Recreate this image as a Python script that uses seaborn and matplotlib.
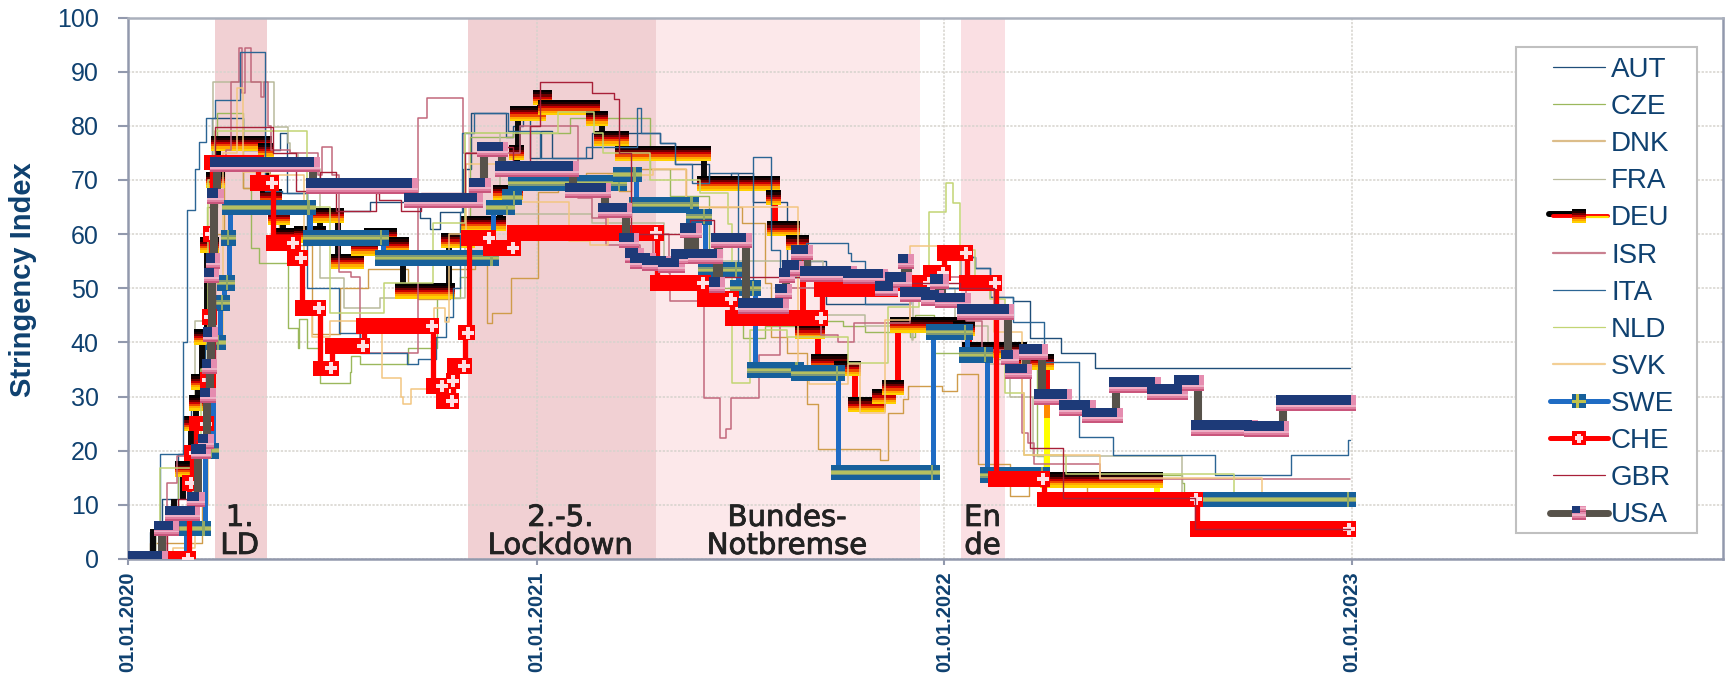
#!/usr/bin/env python3
import numpy as np
import pandas as pd
import seaborn as sns
import matplotlib
matplotlib.use("Agg")
import matplotlib.pyplot as plt
import matplotlib.patheffects as pe
from matplotlib.legend_handler import HandlerBase
from matplotlib.lines import Line2D
from matplotlib.patches import Rectangle

# x values are days since 01.01.2020, each pair starts a new level of the index
aut_days = [0, 20, 30, 45, 56, 69, 75, 103, 136, 142, 160, 217, 244, 261, 270, 279, 295, 300, 307, 330, 338, 345, 354, 360, 370, 380, 415, 456, 476, 490, 520, 540, 560, 590, 611, 625, 660, 700, 745, 758, 772, 792, 808, 835, 866, 1094]
aut_vals = [0, 5, 11, 19.4, 30, 60, 81.4, 75.5, 78.7, 67.6, 64.3, 66, 66, 63, 61, 64, 64, 72, 82.4, 82.4, 78, 80, 82, 74, 79, 74, 78.7, 78.7, 76.8, 73, 70, 71.3, 66, 52, 55, 47, 47, 50, 55.8, 53.7, 48.4, 47.7, 40.8, 38, 35.2, 35.2]
cze_days = [0, 29, 45, 62, 71, 80, 90, 103, 110, 117, 143, 151, 152, 153, 158, 160, 172, 181, 199, 200, 208, 251, 277, 297, 306, 345, 396, 467, 485, 520, 551, 570, 600, 640, 660, 700, 705, 722, 775, 814, 820, 944, 945, 1094]
cze_vals = [0, 5, 17, 30, 65, 82.4, 82.4, 68.5, 57.4, 54.6, 42.6, 42.6, 38.9, 44.4, 44.4, 38.9, 32.5, 32.5, 34.6, 37.4, 36.1, 38.9, 48.2, 52, 78, 78.6, 81.4, 72, 67, 50, 40.8, 43, 44, 43, 42, 41, 45, 38, 37, 19, 15.5, 14, 11, 11]
dnk_days = [0, 20, 62, 66, 70, 72, 86, 103, 125, 135, 152, 165, 190, 215, 251, 260, 288, 311, 321, 326, 343, 367, 385, 410, 440, 450, 500, 550, 570, 576, 590, 608, 618, 673, 680, 694, 698, 729, 742, 761, 790, 807, 859, 1094]
dnk_vals = [0, 3, 3, 10, 30, 60, 72, 68.5, 66, 60, 58, 41.6, 50, 53.6, 51, 48, 53.6, 54.6, 43.5, 45.4, 51.9, 67.8, 69, 71.3, 68, 72, 65, 62, 51, 41, 38, 28.7, 20.4, 18.3, 26.9, 29.5, 32, 31, 34.1, 17.6, 11.6, 14.8, 12, 11]
fra_days = [0, 25, 58, 60, 76, 130, 131, 143, 145, 152, 172, 193, 226, 290, 302, 330, 333, 410, 415, 440, 480, 622, 660, 702, 703, 740, 770, 790, 810, 942, 944, 1094]
fra_vals = [0, 5, 20, 44, 88, 88, 79.7, 76.8, 75, 72, 51.9, 46.3, 48.2, 48.2, 78.6, 78.6, 63.8, 63.8, 62, 62, 55, 45, 43, 40.4, 50, 43, 36, 30, 19, 19, 11, 11]
isr_days = [0, 35, 44, 75, 76, 78, 88, 92, 99, 102, 105, 110, 119, 122, 125, 128, 145, 170, 174, 180, 183, 189, 200, 208, 248, 260, 268, 299, 300, 315, 351, 402, 403, 415, 428, 458, 470, 484, 485, 516, 530, 535, 540, 565, 584, 620, 636, 650, 690, 700, 750, 765, 800, 806, 811, 870, 1094]
isr_vals = [0, 14, 19, 30, 50, 72, 75.5, 88, 94.4, 86, 94.4, 88, 85.4, 88, 80, 75.5, 75, 71, 76, 76, 71, 53, 52, 38, 38, 81.4, 85.2, 85.2, 75, 75, 80, 80, 66.6, 63, 58, 55.9, 60, 52.8, 47.7, 29.7, 22.3, 24, 29.7, 37.7, 50, 41.4, 40, 43.6, 43.6, 52, 44, 38.6, 23.3, 21.4, 17.5, 14.8, 14.8]
ita_days = [0, 29, 49, 53, 60, 64, 70, 78, 100, 123, 138, 160, 181, 189, 208, 248, 250, 260, 276, 285, 291, 297, 299, 310, 338, 340, 369, 410, 456, 459, 476, 490, 505, 520, 546, 560, 576, 584, 607, 645, 647, 660, 700, 730, 745, 758, 772, 792, 820, 851, 882, 973, 1041, 1092, 1094]
ita_vals = [0, 19.4, 40, 64.4, 72, 77, 81.4, 84.7, 93.6, 68, 67.6, 50, 50, 41.7, 38, 38, 36, 37, 41, 44.7, 50, 64, 78.6, 82.4, 82.4, 79, 74, 76, 83.3, 78.7, 76.8, 73, 69.4, 71.3, 50, 74.2, 57, 52, 58.3, 56.5, 55, 47, 50, 50, 55.8, 53.7, 48.4, 43.8, 36.4, 22.6, 19.2, 15.5, 19.2, 22, 22]
nld_days = [0, 29, 49, 65, 72, 78, 130, 160, 181, 229, 272, 273, 300, 302, 385, 400, 417, 425, 466, 467, 475, 512, 537, 541, 557, 590, 645, 680, 695, 708, 717, 732, 739, 745, 758, 772, 785, 799, 802, 812, 840, 990, 1094]
nld_vals = [0, 16.8, 16.8, 35, 70, 79, 79, 65, 45.5, 51, 51, 62, 62, 78.6, 82.6, 82.6, 78.7, 75, 75, 70, 70, 67.6, 61.9, 32.5, 42.3, 41, 36.2, 46.6, 46.6, 52, 64, 69.4, 65.8, 57, 50, 48, 30.7, 30.7, 19.2, 19.2, 15.7, 11, 11]
svk_days = [0, 40, 60, 72, 85, 98, 103, 127, 158, 165, 181, 208, 227, 244, 246, 253, 274, 284, 287, 303, 315, 350, 375, 395, 414, 430, 470, 500, 600, 610, 645, 655, 678, 700, 735, 745, 775, 800, 802, 870, 1015, 1094]
svk_vals = [0, 2, 10, 40, 75, 87, 71.5, 71, 46, 41, 44, 44, 33.4, 29.9, 28.7, 31.4, 46.3, 43.8, 60, 73, 73, 66, 66, 58.7, 58, 71, 72, 65, 35, 32.4, 36, 26.9, 44.1, 57.8, 57.8, 50, 42, 30.7, 19.2, 15, 11, 11]
gbr_days = [0, 35, 45, 60, 70, 78, 130, 150, 172, 186, 222, 225, 244, 262, 302, 330, 345, 360, 369, 414, 415, 435, 440, 450, 503, 525, 610, 680, 745, 775, 790, 808, 837, 955, 1094]
gbr_vals = [0, 5, 11, 22, 35, 79.7, 75, 68, 71.5, 64.3, 67.5, 66.3, 64.3, 67.5, 75, 76, 72, 80, 88, 88, 86, 85, 75, 60, 62.6, 52, 53, 51, 50, 45, 38, 20.5, 11.3, 5.6, 5.6]
deu_days = [0, 22, 41, 49, 56, 61, 63, 66, 71, 76, 81, 123, 125, 132, 139, 155, 172, 188, 206, 218, 235, 246, 287, 305, 333, 348, 349, 369, 374, 417, 424, 443, 516, 578, 579, 596, 604, 618, 639, 651, 673, 682, 689, 745, 753, 799, 823, 921, 1094]
deu_vals = [0, 5.6, 11, 16.6, 25, 28.8, 32.7, 41, 58, 70, 76.8, 75.5, 66.9, 63, 59.8, 60, 63.5, 55, 57.4, 59.8, 58, 49.5, 58.8, 62, 67.7, 75, 82.3, 85.2, 83.4, 81.4, 77.7, 74.9, 69.4, 66.7, 61, 58.4, 42, 36.4, 35.2, 28.5, 30, 31.7, 43.2, 42.5, 38.6, 36.4, 14.6, 11, 11]
swe_days = [0, 52, 69, 76, 82, 86, 90, 91, 163, 228, 327, 341, 347, 441, 455, 506, 517, 546, 561, 600, 636, 721, 751, 769, 820, 1094]
swe_vals = [0, 5.6, 20, 40, 47.3, 51, 59.3, 64.9, 59.3, 55.6, 64.9, 66.8, 69.4, 71, 65.4, 63.2, 53.4, 50, 34.9, 34.3, 16, 41.9, 37.7, 15.5, 11, 11]
che_days = [0, 55, 57, 61, 71, 73, 74, 75, 116, 130, 149, 156, 172, 183, 211, 273, 282, 291, 292, 302, 305, 324, 346, 474, 516, 541, 621, 684, 718, 731, 751, 777, 820, 957, 1094]
che_vals = [0, 14, 19.6, 25, 33, 44.7, 60, 73.2, 69.4, 58.4, 55.6, 46.4, 35.2, 39.3, 43, 32, 29.2, 32.9, 35.6, 41.8, 59.3, 57.4, 60.2, 51, 48, 44.5, 49.8, 51, 52.8, 56.5, 51, 14.8, 11, 5.5, 5.5]
usa_days = [0, 30, 40, 59, 63, 69, 71, 73, 74, 75, 76, 77, 80, 166, 254, 312, 319, 335, 398, 427, 446, 452, 456, 467, 481, 493, 501, 508, 527, 529, 553, 586, 589, 592, 600, 608, 647, 675, 684, 696, 698, 717, 725, 729, 749, 788, 792, 804, 818, 840, 861, 885, 919, 943, 958, 1006, 1034, 1094]
usa_vals = [0, 5.6, 8.4, 11, 19.8, 21.7, 30.2, 35.6, 41.4, 52.4, 55, 67, 72.8, 68.9, 66.2, 69, 75.6, 72, 68.1, 64.4, 58.8, 56, 55, 54.6, 54.2, 55.8, 60.6, 55.9, 50.6, 58.8, 46.7, 49.4, 52.4, 53.7, 56.6, 52.6, 52.2, 49.9, 51.5, 54.9, 48.8, 48.2, 51.2, 47.7, 45.6, 37.2, 34.6, 38.2, 29.9, 27.9, 26.5, 32.1, 30.8, 32.5, 24.2, 24, 28.8, 28.8]

band_starts = [78, 304, 473, 746]
band_ends = [124, 473, 709, 785]
band_colors = ["#f1d0d3", "#f1d0d3", "#fce8ea", "#fadfe3"]
band_texts = ["1.\nLD", "2.-5.\nLockdown", "Bundes-\nNotbremse", "En\nde"]
band_text_days = [100, 387, 590, 765]

date_labels = ["01.01.2020", "01.01.2021", "01.01.2022", "01.01.2023"]
y_ticks = [0, 10, 20, 30, 40, 50, 60, 70, 80, 90, 100]

W, H = 1725, 673
NAVY = "#0f4170"
FLAG_DAYS = 6.6   # half a flag along x
FLAG_UNITS = 2.8  # flag height in index points
DEU_ROWS = ["#000000", "#1c0000", "#6e0000", "#cc0000", "#f04a00", "#ffa800", "#ffd000"]
USA_ROWS = ["#e58db0", "#eeb0c6", "#e07fa0", "#c9567c"]


def stack(ax, left, right, top, bottom, colors, z):
    """Horizontal colour rows between top and bottom, in data units."""
    edges = np.linspace(top, bottom, len(colors) + 1)
    for c, a, b in zip(colors, edges[:-1], edges[1:]):
        ax.barh((a + b) / 2, right - left, height=abs(a - b) * 1.03, left=left,
                color=c, linewidth=0, zorder=z)


def flag_run(ax, kind, start, end, value, z):
    # a run of overlapping flag markers from start to end
    left, right = start - FLAG_DAYS, end + FLAG_DAYS
    top, bottom = value + FLAG_UNITS / 2, value - FLAG_UNITS / 2
    if kind == "deu":
        stack(ax, left, right, top, bottom, DEU_ROWS, z)
    elif kind == "swe":
        stack(ax, left, right, top, bottom, ["#17609b"], z)
        stack(ax, left, right, value + 0.45, value - 0.45, ["#7f9a76"], z)
        stack(ax, left, right, value + 0.22, value - 0.22, ["#b5c060"], z)
        ax.barh(value, 2.0, height=FLAG_UNITS, left=end - 1.5, color="#8fa868", linewidth=0, zorder=z)
    elif kind == "che":
        stack(ax, left, right, top, bottom, ["#ff0000"], z)
        ax.scatter([end], [value], marker="P", s=70, color="#ffe0e4", linewidths=0, zorder=z + 0.1)
    elif kind == "usa":
        stack(ax, left, right, value, bottom, USA_ROWS, z)
        stack(ax, left, right, top, value, ["#e58db0"], z)
        stack(ax, left, right - FLAG_DAYS * 0.75, top, value - 0.3, ["#1d3a78"], z + 0.01)


class FlagHandler(HandlerBase):
    def create_artists(self, legend, orig_handle, xdescent, ydescent, width, height, fontsize, trans):
        kind = orig_handle.get_gid()
        y = height / 2 - ydescent
        arts = []
        if kind == "deu":
            arts.append(Line2D([-xdescent - 3, width / 2], [y + 1, y + 1], color="#000000", lw=4.3, solid_capstyle="round", transform=trans))
            arts.append(Line2D([-xdescent, width + 2], [y, y], color="#ff0000", lw=2.8, solid_capstyle="round", transform=trans))
            arts.append(Line2D([width / 2, width + 2], [y - 1, y - 1], color="#ffe000", lw=1.6, solid_capstyle="round", transform=trans))
        else:
            extra = 2 if kind else 0
            arts.append(Line2D([-xdescent - extra, width + extra], [y, y], color=orig_handle.get_color(),
                               lw=orig_handle.get_linewidth(), solid_capstyle="round", transform=trans))
        if kind:
            x0, s = width / 2 - 5, 10
            def cell(x, yy, w, h, c):
                arts.append(Rectangle((x, yy), w, h, fc=c, ec="none", transform=trans))
            if kind == "deu":
                for i, c in enumerate(DEU_ROWS):
                    cell(x0, y + 5 - (i + 1) * s / 7, s, s / 7 + 0.1, c)
            elif kind == "swe":
                cell(x0, y - 5, s, s, "#17609b")
                cell(x0, y - 0.9, s, 1.8, "#c2c24c")
                cell(x0 + 3.2, y - 5, 1.8, s, "#c2c24c")
            elif kind == "che":
                cell(x0, y - 5, s, s, "#ff0000")
                cell(x0 + 3.6, y - 3, 2.8, 6, "#ffe0e4")
                cell(x0 + 2, y - 1.4, 6, 2.8, "#ffe0e4")
            elif kind == "usa":
                for i, c in enumerate(USA_ROWS * 2):
                    cell(x0, y + 5 - (i + 1) * s / 8, s, s / 8 + 0.1, c)
                cell(x0, y, s * 0.55, 5, "#1d3a78")
        return arts


def main():
    sns.set_style("white")
    plt.rcParams["font.family"] = ["Liberation Sans", "DejaVu Sans"]

    fig = plt.figure(figsize=(W / 100, H / 100), dpi=100)
    ax = fig.add_axes([128 / W, 1 - 559 / H, (1723 - 128) / W, (559 - 17.5) / H])

    for a, b, c in zip(band_starts, band_ends, band_colors):
        ax.axvspan(a, b, color=c, linewidth=0, zorder=0)

    thin = [("AUT", aut_days, aut_vals, "#1f4e79", 1.0),
            ("CZE", cze_days, cze_vals, "#9bb85c", 1.0),
            ("DNK", dnk_days, dnk_vals, "#cf9c4a", 1.0),
            ("FRA", fra_days, fra_vals, "#b9bb9c", 1.1)]
    thin2 = [("ISR", isr_days, isr_vals, "#c2687c", 1.1),
             ("ITA", ita_days, ita_vals, "#2b6594", 1.0),
             ("NLD", nld_days, nld_vals, "#c2d574", 1.1),
             ("SVK", svk_days, svk_vals, "#f3c681", 1.1)]

    z = 2
    for _, d, v, c, lw in thin:
        sns.lineplot(x=d, y=v, ax=ax, color=c, linewidth=lw, drawstyle="steps-post",
                     estimator=None, zorder=z)
        z += 1

    # DEU connectors take the colours of the flag
    days = np.array(deu_days[1:])
    v0 = np.array(deu_vals[:-1])
    v1 = np.array(deu_vals[1:])
    lo, hi = np.minimum(v0, v1), np.maximum(v0, v1)
    early = days < 560
    ax.vlines(days[early], lo[early], hi[early], color="#0a0a0a", linewidth=4.3, zorder=z)
    ax.vlines(days[~early], np.clip(lo[~early], 30, 100), np.clip(hi[~early], 30, 100), color="#ff0000", linewidth=4.3, zorder=z)
    ax.vlines(days[~early], np.clip(lo[~early], 26, 30), np.clip(hi[~early], 26, 30), color="#ff8a00", linewidth=4.3, zorder=z)
    ax.vlines(days[~early], np.clip(lo[~early], 0, 26), np.clip(hi[~early], 0, 26), color="#ffff00", linewidth=4.3, zorder=z)
    z += 0.1
    for a, b, v in zip(deu_days[:-1], deu_days[1:], deu_vals[:-1]):
        if v > 11 or a == 0:
            flag_run(ax, "deu", a, b - 1, v, z)
    z += 1

    for _, d, v, c, lw in thin2:
        sns.lineplot(x=d, y=v, ax=ax, color=c, linewidth=lw, drawstyle="steps-post",
                     estimator=None, zorder=z)
        z += 1

    heavy = [("swe", swe_days, swe_vals, "#1f6cc4", 3.6),
             ("che", che_days, che_vals, "#ff0000", 3.8)]
    for kind, d, v, c, lw in heavy:
        sns.lineplot(x=d, y=v, ax=ax, color=c, linewidth=lw, drawstyle="steps-post",
                     estimator=None, zorder=z)
        z += 0.1
        for a, b, level in zip(d[:-1], d[1:], v[:-1]):
            flag_run(ax, kind, a, b - 1, level, z)
        z += 1

    sns.lineplot(x=gbr_days, y=gbr_vals, ax=ax, color="#a82038", linewidth=1.0,
                 drawstyle="steps-post", estimator=None, zorder=z)
    z += 1
    sns.lineplot(x=usa_days, y=usa_vals, ax=ax, color="#57524a", linewidth=5.8,
                 drawstyle="steps-post", estimator=None, zorder=z)
    z += 0.1
    for a, b, level in zip(usa_days[:-1], usa_days[1:], usa_vals[:-1]):
        flag_run(ax, "usa", a, b - 1, level, z)

    for d, txt in zip(band_text_days, band_texts):
        t = ax.text(d, 5.0, txt, ha="center", va="center", fontsize=21, color="#222222",
                    family=["DejaVu Sans"], linespacing=1.0, zorder=z + 1)
        t.set_path_effects([pe.withStroke(linewidth=0.6, foreground="#222222")])

    # axes
    x_ticks = [(pd.to_datetime(s, dayfirst=True) - pd.Timestamp(2020, 1, 1)).days for s in date_labels]
    ax.set_xlim(0, 1428)
    ax.set_ylim(0, 100)
    ax.set_xticks(x_ticks)
    ax.set_xticklabels(date_labels, rotation=90, fontsize=14.5, fontweight="bold", color=NAVY)
    ax.set_yticks(y_ticks)
    ax.set_yticklabels(y_ticks, fontsize=18, color=NAVY)
    ax.tick_params(axis="y", left=True, length=7.2, width=1.5, color="#9299ad", pad=14)
    ax.tick_params(axis="x", bottom=True, length=4, width=1.5, color="#9299ad", pad=5)
    ax.grid(True, color="#d6d3cd", linestyle=(0, (1.5, 1)), linewidth=1.1)
    ax.set_axisbelow(True)
    for name, spine in ax.spines.items():
        spine.set_visible(True)
        spine.set_color("#9299ad" if name in ("left", "bottom", "right") else "#aab0bc")
        spine.set_linewidth(1.8)
    ax.set_ylabel("Stringency Index", fontsize=21, fontweight="bold", color=NAVY)
    ax.yaxis.set_label_coords((37 - 128) / (1723 - 128), (559 - 280) / (559 - 17.5))

    # legend box
    ax.add_patch(Rectangle((1516 / W, 1 - 533 / H), 181 / W, 486 / H, transform=fig.transFigure,
                           fc="white", ec="#c0c0c0", lw=1.5, zorder=50, clip_on=False))
    names = ["AUT", "CZE", "DNK", "FRA", "DEU", "ISR", "ITA", "NLD", "SVK", "SWE", "CHE", "GBR", "USA"]
    colors = ["#1f4e79", "#9bb85c", "#dcbd8a", "#b9bb9c", "#000000", "#c98090", "#2b6594",
              "#c2d574", "#f3cf95", "#1f6cc4", "#ff0000", "#a82038", "#57524a"]
    widths = [0.9, 0.9, 1.6, 0.9, 4, 1.6, 0.9, 0.9, 1.6, 3.6, 3.6, 0.9, 5.0]
    kinds = [None, None, None, None, "deu", None, None, None, None, "swe", "che", None, "usa"]
    handles = []
    for n, c, w, k in zip(names, colors, widths, kinds):
        h = Line2D([], [], color=c, lw=w, label=n)
        h.set_gid(k)
        handles.append(h)
    leg = ax.legend(handles=handles, loc="upper left", bbox_to_anchor=(1553 / W, 1 - 57 / H),
                    bbox_transform=fig.transFigure, frameon=False, fontsize=20, labelcolor=NAVY,
                    borderpad=0, borderaxespad=0, labelspacing=0.4, handlelength=1.87,
                    handletextpad=0.22, handler_map={Line2D: FlagHandler()})
    leg.set_zorder(60)

    fig.savefig("out.png", dpi=100)


if __name__ == "__main__":
    main()
